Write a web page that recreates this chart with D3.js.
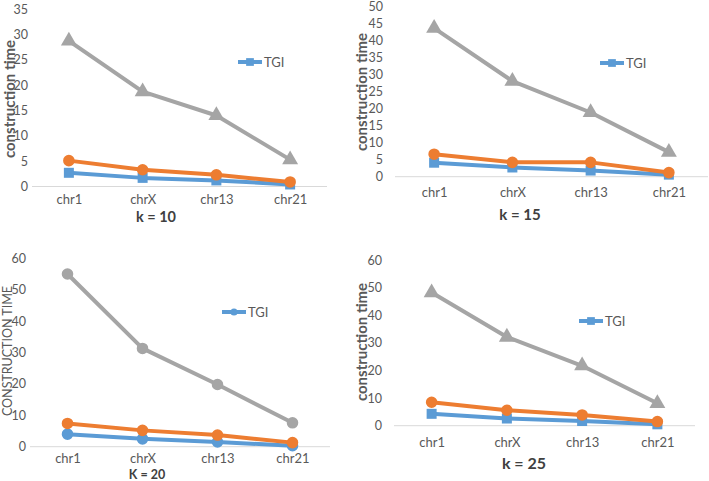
<!DOCTYPE html>
<html><head><meta charset="utf-8">
<script src="https://cdn.jsdelivr.net/npm/d3@7"></script>
<style>
body{margin:0;background:#fff;}
svg{display:block;font-family:Lato,"Open Sans",sans-serif;}
</style></head>
<body><svg id="c" width="709" height="481"></svg>
<script>
const categories = ["chr1","chrX","chr13","chr21"];
const legendLabel = "TGI";
// k = 10
const k10_tgi    = [2.7, 1.7, 1.2, 0.4];
const k10_orange = [5.1, 3.3, 2.3, 0.9];
const k10_gray   = [28.7, 18.7, 14.0, 5.3];
const k10_ticks  = [0,5,10,15,20,25,30,35];
// k = 15
const k15_tgi    = [4.1, 2.7, 1.8, 0.6];
const k15_orange = [6.6, 4.2, 4.2, 1.2];
const k15_gray   = [43.5, 28.0, 18.8, 7.2];
const k15_ticks  = [0,5,10,15,20,25,30,35,40,45,50];
// k = 20
const k20_tgi    = [4.0, 2.5, 1.5, 0.3];
const k20_orange = [7.4, 5.2, 3.7, 1.3];
const k20_gray   = [55.0, 31.3, 19.8, 7.6];
const k20_ticks  = [0,10,20,30,40,50,60];
// k = 25
const k25_tgi    = [4.3, 2.6, 1.7, 0.5];
const k25_orange = [8.5, 5.6, 3.9, 1.5];
const k25_gray   = [48.2, 32.1, 21.7, 8.1];
const k25_ticks  = [0,10,20,30,40,50,60];

const colors = {tgi:"#5B9BD5", orange:"#ED7D31", gray:"#A5A5A5"};
const svg = d3.select("#c");

const panels = [
  {tgi:k10_tgi, orange:k10_orange, gray:k10_gray, ticks:k10_ticks, max:35,
   x:[32,327], y:[186.5,9], tickX:28, catY:200, title:"construction time", titleBold:true, titleX:8.5, titleY:99, titleSize:15,
   klabel:"k = 10", kx:156, ky:216, ksize:14.5, legX:238, legY:62, shapes:["square","circle","triangle"]},
  {tgi:k15_tgi, orange:k15_orange, gray:k15_gray, ticks:k15_ticks, max:50,
   x:[395,708], y:[176.7,6], tickX:383, catY:193, title:"construction time", titleBold:true, titleX:361, titleY:92, titleSize:15,
   klabel:"k = 15", kx:520, ky:214, ksize:15, legX:600, legY:63, shapes:["square","circle","triangle"]},
  {tgi:k20_tgi, orange:k20_orange, gray:k20_gray, ticks:k20_ticks, max:60,
   x:[30,330], y:[446.7,258.3], tickX:26, catY:459, title:"CONSTRUCTION TIME", titleBold:false, titleX:7.5, titleY:351, titleSize:12.5,
   klabel:"K = 20", kx:147, ky:474.5, ksize:12.5, legX:222, legY:312, shapes:["circle","circle","circle"]},
  {tgi:k25_tgi, orange:k25_orange, gray:k25_gray, ticks:k25_ticks, max:60,
   x:[394,695], y:[425.7,260], tickX:382, catY:443, title:"construction time", titleBold:true, titleX:361, titleY:342, titleSize:15,
   klabel:"k = 25", kx:524, ky:462, ksize:16, legX:579, legY:321, shapes:["square","circle","triangle"]}
];

const symType = {square:d3.symbolSquare, circle:d3.symbolCircle, triangle:d3.symbolTriangle};
const symSize = {square:100, circle:105, triangle:110};

panels.forEach(p => {
  const g = svg.append("g");
  const x = d3.scalePoint().domain(categories).range(p.x).padding(0.5);
  const y = d3.scaleLinear().domain([0,p.max]).range(p.y);

  // baseline
  g.append("line").attr("x1",p.x[0]).attr("x2",p.x[1])
    .attr("y1",y(0)).attr("y2",y(0)).attr("stroke","#D9D9D9").attr("stroke-width",1);

  // y ticks
  const ya = d3.axisLeft(y).tickValues(p.ticks).tickSize(0).tickPadding(0);
  const yg = g.append("g").attr("transform",`translate(${p.tickX},0)`).call(ya);
  yg.select(".domain").remove();
  yg.selectAll("text").attr("font-size",12.5).attr("fill","#595959").attr("font-family","Lato,'Open Sans',sans-serif");

  // x labels
  const xa = d3.axisBottom(x).tickSize(0).tickPadding(0);
  const xg = g.append("g").attr("transform",`translate(0,${p.catY-5})`).call(xa);
  xg.select(".domain").remove();
  xg.selectAll("text").attr("font-size",13).attr("fill","#595959").attr("font-family","Lato,'Open Sans',sans-serif");

  // y title
  g.append("text").attr("transform",`translate(${p.titleX},${p.titleY}) rotate(-90)`)
    .attr("text-anchor","middle").attr("dominant-baseline","central")
    .attr("font-size",p.titleSize).attr("font-weight",p.titleBold?"bold":"normal")
    .attr("fill","#595959").text(p.title);

  // k label
  g.append("text").attr("x",p.kx).attr("y",p.ky).attr("text-anchor","middle")
    .attr("dominant-baseline","central").attr("font-size",p.ksize).attr("font-weight","bold")
    .attr("fill","#404040").text(p.klabel);

  const series = [
    {vals:p.tgi, color:colors.tgi, shape:p.shapes[0]},
    {vals:p.orange, color:colors.orange, shape:p.shapes[1]},
    {vals:p.gray, color:colors.gray, shape:p.shapes[2]}
  ];
  const line = d3.line().x((d,i)=>x(categories[i])).y(d=>y(d));
  series.forEach(s => {
    g.append("path").datum(s.vals).attr("d",line).attr("fill","none")
      .attr("stroke",s.color).attr("stroke-width",4).attr("stroke-linejoin","round");
    g.selectAll(null).data(s.vals).enter().append("path")
      .attr("transform",(d,i)=>`translate(${x(categories[i])},${y(d)})`)
      .attr("d",d3.symbol().type(symType[s.shape]).size(symSize[s.shape]))
      .attr("fill",s.color);
  });

  // legend
  g.append("line").attr("x1",p.legX).attr("x2",p.legX+24).attr("y1",p.legY).attr("y2",p.legY)
    .attr("stroke",colors.tgi).attr("stroke-width",4);
  g.append("path").attr("transform",`translate(${p.legX+12},${p.legY})`)
    .attr("d",d3.symbol().type(symType[p.shapes[0]]).size(p.shapes[0]==="circle"?40:60))
    .attr("fill",colors.tgi);
  g.append("text").attr("x",p.legX+26).attr("y",p.legY).attr("dominant-baseline","central")
    .attr("font-size",13).attr("fill","#595959").text(legendLabel);
});
</script></body></html>
